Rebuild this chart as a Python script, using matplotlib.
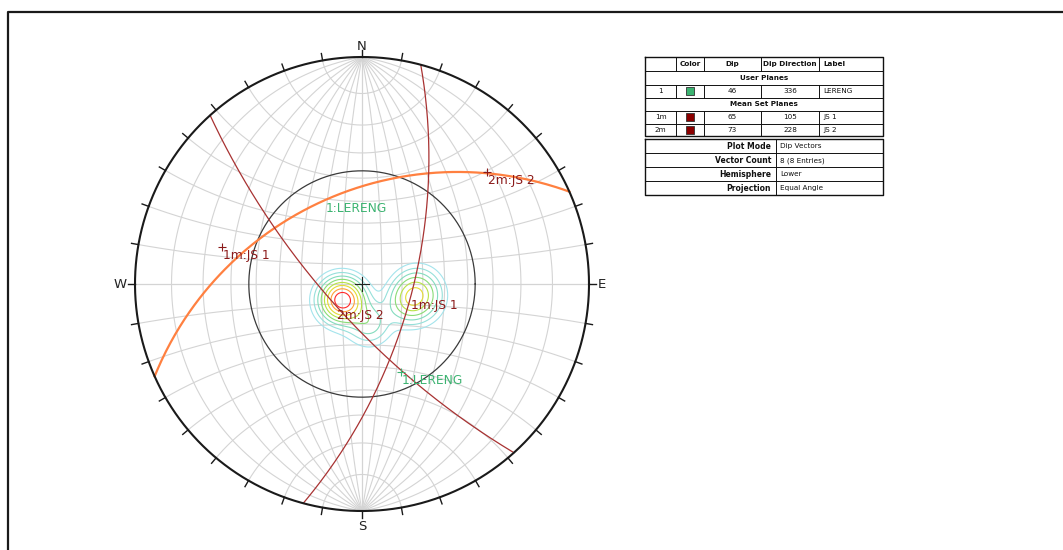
import numpy as np
import matplotlib.pyplot as plt
from matplotlib.colors import LinearSegmentedColormap

W_PX, H_PX = 1063, 550
CX, CY, R_PX = 362, 284, 227   # Mittelpunkt und Radius des Netzes in Pixeln

# Flächen: Nummer, Einfallen, Einfallsrichtung, Bezeichnung
plane_ids = ['1', '1m', '2m']
plane_dips = [46, 65, 73]
plane_dipdirs = [336, 105, 228]
plane_labels = ['LERENG', 'JS 1', 'JS 2']
plane_colors = ['#ff8040', '#a83232', '#a83232']
label_colors = ['#3cb371', '#8b1a1a', '#8b1a1a']
swatch_colors = ['#3cb371', '#8b0000', '#8b0000']

# 8 Einfallsvektoren (Azimut, Einfallen) für die Dichtekonturen
vec_trend = [232, 225, 237, 229, 95, 113, 104, 170]
vec_plunge = [77, 77, 76, 79, 63, 66, 61, 70]

cone_angle = 53  # Kegel um die Vertikale

info_keys = ['Plot Mode', 'Vector Count', 'Hemisphere', 'Projection']
info_values = ['Dip Vectors', '8 (8 Entries)', 'Lower', 'Equal Angle']


def project(e, n, d):
    # winkeltreue Projektion, untere Halbkugel
    return e / (1 + d), n / (1 + d)


def line_vec(trend, plunge):
    t, p = np.radians(trend), np.radians(plunge)
    return np.cos(p) * np.sin(t), np.cos(p) * np.cos(t), np.sin(p)


def great_circle(dipdir, dip, n=200):
    s, dd, d = np.radians(dipdir - 90), np.radians(dipdir), np.radians(dip)
    a = np.linspace(0, np.pi, n)
    sv = np.array([np.sin(s), np.cos(s), 0.0])
    dv = np.array([np.sin(dd) * np.cos(d), np.cos(dd) * np.cos(d), np.sin(d)])
    v = np.outer(np.cos(a), sv) + np.outer(np.sin(a), dv)
    return project(v[:, 0], v[:, 1], v[:, 2])


def small_circle_ns(alpha, sign, n=200):
    a = np.radians(alpha)
    phi = np.linspace(0, np.pi, n)
    e = np.sin(a) * np.cos(phi)
    nn = sign * np.cos(a) * np.ones_like(phi)
    d = np.sin(a) * np.sin(phi)
    return project(e, nn, d)


fig = plt.figure(figsize=(W_PX / 100, H_PX / 100), dpi=100)

# Hintergrund-Achse in Pixelkoordinaten (Rahmen + Tabelle)
axp = fig.add_axes([0, 0, 1, 1])
axp.set_xlim(0, W_PX)
axp.set_ylim(H_PX, 0)
axp.axis('off')
axp.plot([7.5, 7.5, W_PX + 5], [H_PX + 5, 11.5, 11.5], color='#1a1a1a', lw=1.6)

# Stereonetz
half = 262
ax = fig.add_axes([(CX - half) / W_PX, (H_PX - CY - half) / H_PX,
                   2 * half / W_PX, 2 * half / H_PX])
lim = half / R_PX
ax.set_xlim(-lim, lim)
ax.set_ylim(-lim, lim)
ax.axis('off')
ax.patch.set_alpha(0)

grid_c = '#d4d4d4'
for dip in range(10, 91, 10):
    for dd in (90, 270):
        x, y = great_circle(dd, dip)
        ax.plot(x, y, color=grid_c, lw=0.8, zorder=1)
for alpha in range(10, 91, 10):
    for sgn in (1, -1):
        x, y = small_circle_ns(alpha, sgn)
        ax.plot(x, y, color=grid_c, lw=0.8, zorder=1)

# Dichtekonturen
g = np.linspace(-1, 1, 601)
X, Y = np.meshgrid(g, g)
rho2 = X ** 2 + Y ** 2
E = 2 * X / (1 + rho2)
N = 2 * Y / (1 + rho2)
D = (1 - rho2) / (1 + rho2)
kappa = 75
dens = np.zeros_like(X)
for t, p in zip(vec_trend, vec_plunge):
    e, n, d = line_vec(t, p)
    dens += np.exp(kappa * (E * e + N * n + D * d - 1))
dens = np.where(rho2 <= 1, dens, np.nan)
cmap = LinearSegmentedColormap.from_list(
    'dips', ['#a4e4ec', '#84dcc4', '#8cdc64', '#c8e43c', '#f0d830', '#ff9838', '#ff2a2a'])
levels = np.array([0.06, 0.12, 0.2, 0.3, 0.42, 0.55, 0.7, 0.85]) * np.nanmax(dens)
ax.contour(X, Y, dens, levels=levels, cmap=cmap, linewidths=0.8, zorder=2)

# Kegel
r_cone = np.tan(np.radians(cone_angle) / 2)
th = np.linspace(0, 2 * np.pi, 400)
ax.plot(r_cone * np.cos(th), r_cone * np.sin(th), color='#3a3a3a', lw=0.9, zorder=3)

# Großkreise der Flächen
for dip, dd, c in zip(plane_dips, plane_dipdirs, plane_colors):
    x, y = great_circle(dd, dip)
    ax.plot(x, y, color=c, lw=1.6 if c == '#ff8040' else 0.9, zorder=4)

# Pole (+) und Einfallsvektoren mit Beschriftung
for pid, dip, dd, lab, lc in zip(plane_ids, plane_dips, plane_dipdirs, plane_labels, label_colors):
    txt = f'{pid}:{lab}'
    px, py = project(*line_vec((dd + 180) % 360, 90 - dip))
    ax.plot(px, py, marker='+', ms=6, mew=0.8, color=lc, zorder=5)
    ax.annotate(txt, (px, py), xytext=(0.5, -1.5), textcoords='offset points',
                ha='left', va='top', fontsize=8.8, color=lc, zorder=6)
    vx, vy = project(*line_vec(dd, dip))
    ax.annotate(txt, (vx, vy), xytext=(0.5, -1.5), textcoords='offset points',
                ha='left', va='top', fontsize=8.8, color=lc, zorder=6)

# Primitivkreis, Ticks, Himmelsrichtungen
ax.plot(np.cos(th), np.sin(th), color='#1a1a1a', lw=1.5, zorder=7)
tick_len = 7 / R_PX
for az in range(0, 360, 10):
    a = np.radians(az)
    ax.plot([np.sin(a), (1 + tick_len) * np.sin(a)], [np.cos(a), (1 + tick_len) * np.cos(a)],
            color='#1a1a1a', lw=1.0, zorder=7)
for az, lab, o in zip([0, 90, 180, 270], ['N', 'E', 'S', 'W'], [11, 13, 15, 15]):
    a = np.radians(az)
    off = 1 + o / R_PX
    ax.text(off * np.sin(a), off * np.cos(a), lab,
            ha='center', va='center', fontsize=9.5, color='#222222', zorder=7)
cl = 7 / R_PX
ax.plot([-cl, cl], [0, 0], color='#222222', lw=0.8, zorder=7)
ax.plot([0, 0], [-cl, cl], color='#222222', lw=0.8, zorder=7)

# Tabelle
col_x = [645, 676, 704, 761, 819, 883]
row_y = [57.3, 71.3, 84.5, 97.7, 110.7, 123.5, 136.3]
header = ['', 'Color', 'Dip', 'Dip Direction', 'Label']
lc_ = '#111111'
fs = 5.2
axp.plot([col_x[0], col_x[-1], col_x[-1], col_x[0], col_x[0]],
         [row_y[0], row_y[0], row_y[-1], row_y[-1], row_y[0]], color=lc_, lw=1.0)
for y in row_y[1:-1]:
    axp.plot([col_x[0], col_x[-1]], [y, y], color=lc_, lw=0.7)
for i in (0, 2, 4, 5):
    for x in col_x[1:-1]:
        axp.plot([x, x], [row_y[i], row_y[i + 1]], color=lc_, lw=0.7)


def cell_text(c, r, s, bold=False, align='center'):
    y = (row_y[r] + row_y[r + 1]) / 2
    if align == 'center':
        x = (col_x[c] + col_x[c + 1]) / 2
    else:
        x = col_x[c] + 4
    axp.text(x, y, s, ha=align, va='center', fontsize=fs,
             fontweight='bold' if bold else 'normal', color='#111111')


for c, h in enumerate(header):
    if h:
        cell_text(c, 0, h, bold=True, align='left' if h == 'Label' else 'center')
axp.text((col_x[0] + col_x[-1]) / 2, (row_y[1] + row_y[2]) / 2, 'User Planes',
         ha='center', va='center', fontsize=fs, fontweight='bold', color='#111111')
axp.text((col_x[0] + col_x[-1]) / 2, (row_y[3] + row_y[4]) / 2, 'Mean Set Planes',
         ha='center', va='center', fontsize=fs, fontweight='bold', color='#111111')
for r, k in zip([2, 4, 5], range(3)):
    cell_text(0, r, plane_ids[k])
    yc = (row_y[r] + row_y[r + 1]) / 2
    xc = (col_x[1] + col_x[2]) / 2
    axp.add_patch(plt.Rectangle((xc - 4, yc - 4), 8, 8, facecolor=swatch_colors[k],
                                edgecolor='#333333', lw=0.6))
    cell_text(2, r, str(plane_dips[k]))
    cell_text(3, r, str(plane_dipdirs[k]))
    cell_text(4, r, plane_labels[k], align='left')

info_y = [139.3, 153.3, 167.3, 181.3, 195.3]
split = 776
axp.plot([col_x[0], col_x[-1], col_x[-1], col_x[0], col_x[0]],
         [info_y[0], info_y[0], info_y[-1], info_y[-1], info_y[0]], color=lc_, lw=1.0)
for y in info_y[1:-1]:
    axp.plot([col_x[0], col_x[-1]], [y, y], color=lc_, lw=0.7)
axp.plot([split, split], [info_y[0], info_y[-1]], color=lc_, lw=0.7)
for i, (k, v) in enumerate(zip(info_keys, info_values)):
    yc = (info_y[i] + info_y[i + 1]) / 2
    axp.text(split - 5, yc, k, ha='right', va='center', fontsize=fs + 0.3,
             fontweight='bold', color='#111111')
    axp.text(split + 4, yc, v, ha='left', va='center', fontsize=fs, color='#111111')

fig.savefig('out.png', dpi=100)
